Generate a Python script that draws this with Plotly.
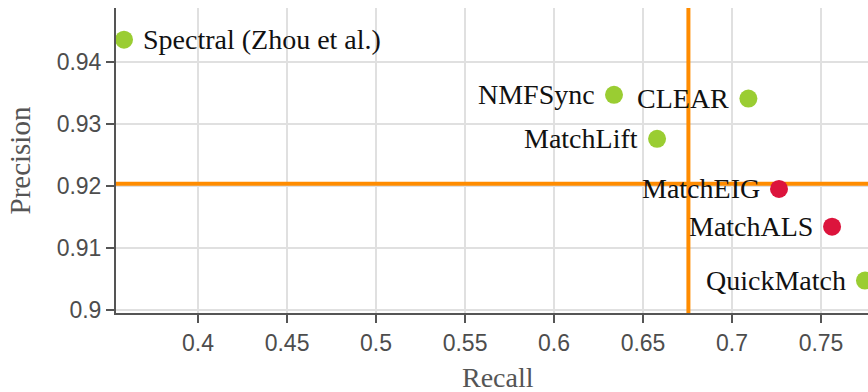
import plotly.graph_objects as go

# Precision / recall of multi-graph matching methods
methods = ["Spectral (Zhou et al.)", "NMFSync", "CLEAR", "MatchLift",
           "MatchEIG", "MatchALS", "QuickMatch"]
recall = [0.3584, 0.6337, 0.7092, 0.6579, 0.7264, 0.7562, 0.7747]
precision = [0.9436, 0.9347, 0.9341, 0.9276, 0.9195, 0.9134, 0.9047]
highlighted = [False, False, False, False, True, True, False]

# Reference thresholds (orange cross-hair)
recall_threshold = 0.6755
precision_threshold = 0.92034

x_range = [0.3539, 0.7764]
y_range = [0.89947, 0.94872]
x_ticks = [0.4, 0.45, 0.5, 0.55, 0.6, 0.65, 0.7, 0.75]
x_tick_labels = ["0.4", "0.45", "0.5", "0.55", "0.6", "0.65", "0.7", "0.75"]
y_ticks = [0.9, 0.91, 0.92, 0.93, 0.94]
y_tick_labels = ["0.9", "0.91", "0.92", "0.93", "0.94"]

GREEN = "#9ACD32"
RED = "#DC143C"
ORANGE = "#FF8C00"
AXIS = "#555555"
SERIF = "Liberation Serif, Times New Roman, serif"
SANS = "Liberation Sans, Arial, sans-serif"

fig = go.Figure()

# threshold cross-hair, drawn beneath the markers
fig.add_trace(go.Scatter(
    x=x_range, y=[precision_threshold, precision_threshold], mode="lines",
    line=dict(color=ORANGE, width=4), hoverinfo="skip",
))
fig.add_trace(go.Scatter(
    x=[recall_threshold, recall_threshold], y=y_range, mode="lines",
    line=dict(color=ORANGE, width=4), hoverinfo="skip",
))

fig.add_trace(go.Scatter(
    x=recall, y=precision, mode="markers",
    marker=dict(size=18, color=[RED if h else GREEN for h in highlighted],
                line=dict(width=0)),
    cliponaxis=False, hoverinfo="text", text=methods,
))

# method names beside each marker
for name, rx, py in zip(methods, recall, precision):
    right = rx < 0.5
    fig.add_annotation(
        x=rx, y=py, text=name, showarrow=False,
        xanchor="left" if right else "right", yanchor="middle",
        xshift=17 if right else -17, yshift=0,
        font=dict(family=SERIF, size=28, color="#111111"),
    )

fig.add_annotation(
    text="Recall", xref="paper", yref="paper", x=(498 - 116) / 752, y=0,
    xanchor="center", yanchor="middle", yshift=-64, showarrow=False,
    font=dict(family=SERIF, size=28, color=AXIS),
)
fig.add_annotation(
    text="Precision", xref="paper", yref="paper", x=0, y=0.5,
    xanchor="center", yanchor="middle", xshift=-97, textangle=-90, showarrow=False,
    font=dict(family=SERIF, size=29, color=AXIS),
)

fig.update_xaxes(
    range=x_range, tickvals=x_ticks, ticktext=x_tick_labels,
    showline=True, linecolor=AXIS, linewidth=2, mirror=False,
    ticks="outside", ticklen=8, tickwidth=2, tickcolor=AXIS,
    showgrid=True, gridcolor="#e0e0e0", gridwidth=1.5, zeroline=False,
    tickfont=dict(family=SANS, size=23, color="#4d4d4d"),
)
fig.update_yaxes(
    range=y_range, tickvals=y_ticks, ticktext=y_tick_labels,
    showline=True, linecolor=AXIS, linewidth=2, mirror=False,
    ticks="outside", ticklen=8, tickwidth=2, tickcolor=AXIS,
    showgrid=True, gridcolor="#e0e0e0", gridwidth=1.5, zeroline=False,
    tickfont=dict(family=SANS, size=23, color="#4d4d4d"),
)

fig.update_layout(
    width=868, height=392,
    margin=dict(l=116, r=0, t=8, b=79),
    plot_bgcolor="white", paper_bgcolor="white",
    showlegend=False,
)

fig.write_html("out.html")
